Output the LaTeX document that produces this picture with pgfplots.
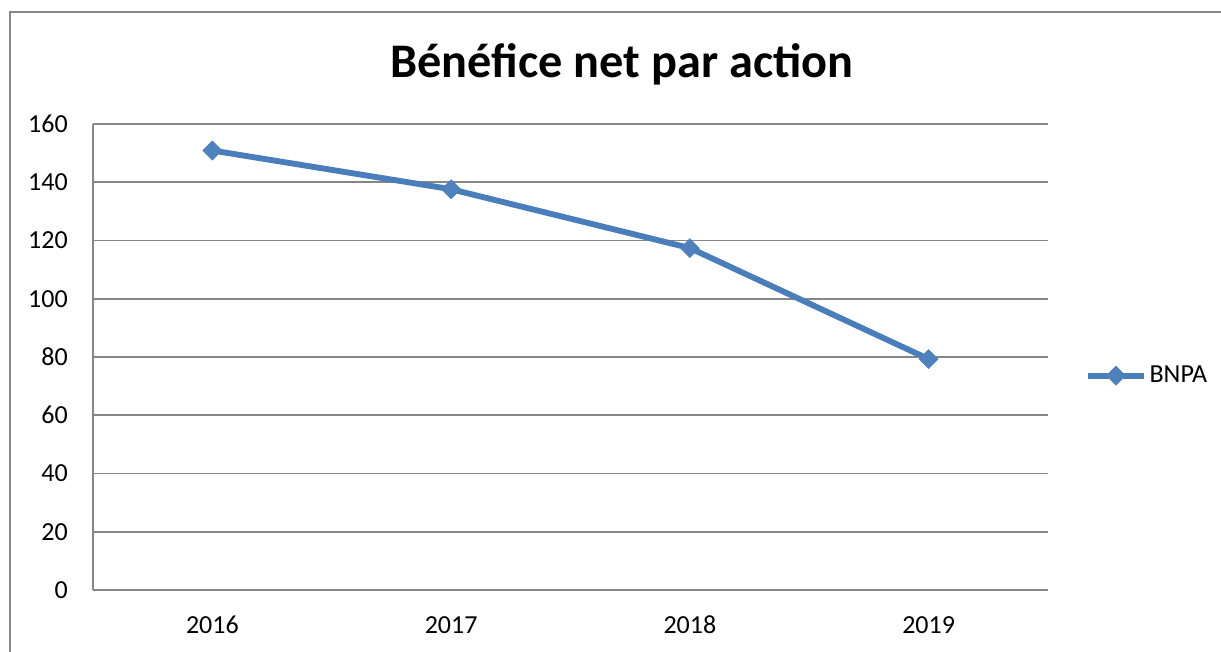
\documentclass[border=0pt]{standalone}
\usepackage{pgfplots}
\pgfplotsset{compat=1.18}
\usepackage{fontspec}
\setmainfont{Carlito}
\definecolor{exblue}{HTML}{4A7EBB}
\definecolor{exfill}{HTML}{4F81BD}
\definecolor{gridgray}{HTML}{868686}
\begin{document}
\begin{tikzpicture}
\useasboundingbox (0pt,0pt) rectangle (915.75pt,488.25pt);
\draw[gridgray, line width=1.5pt] (7.5pt,-5pt) -- (7.5pt,479.25pt) -- (925pt,479.25pt);
\node[font=\fontsize{36.2}{42}\selectfont\bfseries, anchor=base, inner sep=0pt] at (466.5pt,429.75pt) {Bénéfice net par action};
\begin{axis}[
  at={(69.75pt,45.75pt)}, anchor=south west,
  scale only axis, width=716.25pt, height=349.5pt,
  xmin=-0.5, xmax=3.5, ymin=0, ymax=160,
  xtick={0,1,2,3}, xticklabels={2016,2017,2018,2019},
  ytick={0,20,...,160},
  axis x line=bottom, axis y line=left,
  axis line style={gridgray, line width=1.2pt, -},
  ymajorgrids, grid style={gridgray, line width=1.2pt},
  major tick length=0pt,
  tick style={draw=none},
  ticklabel style={font=\fontsize{19.5}{23}\selectfont},
  yticklabel style={inner sep=0pt, xshift=-18.75pt},
  xticklabel style={inner sep=0pt, anchor=base, yshift=-32.5pt},
  /pgf/number format/assume math mode=true,
  legend style={at={(1.0385,0.46)}, anchor=west, draw=none, fill=none, inner sep=0pt,
    font=\fontsize{19.5}{23}\selectfont},
  legend image code/.code={\draw[#1, mark repeat=2, mark phase=2] plot coordinates {(0pt,0pt) (21pt,0pt) (42pt,0pt)};},
  clip=false,
]
\addplot[exblue, line width=4.4pt, mark=square*, mark size=5pt,
  mark options={solid, rotate=45, fill=exfill, draw=exfill, line width=0.5pt}]
  coordinates {(0,150.9) (1,137.6) (2,117.4) (3,79.3)};
\addlegendentry{BNPA}
\end{axis}
\end{tikzpicture}
\end{document}
